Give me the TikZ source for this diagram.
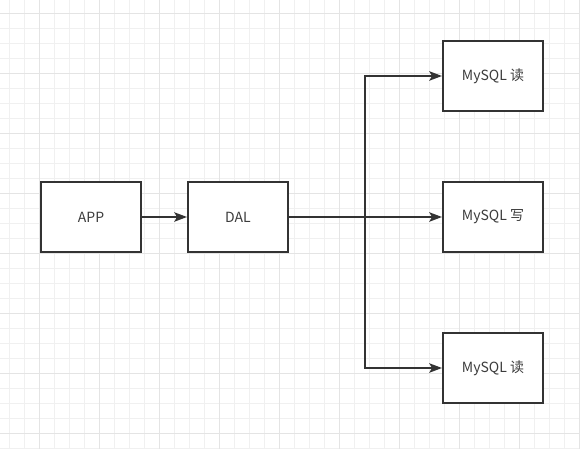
\documentclass[tikz,border=0pt]{standalone}
\usepackage{fontspec}
\setmainfont{Noto Sans CJK SC}
\usetikzlibrary{arrows.meta}
\definecolor{minorgrid}{HTML}{F0F0F0}
\definecolor{majorgrid}{HTML}{E4E4E4}
\definecolor{ink}{HTML}{333333}
\definecolor{txt}{HTML}{3C3C3C}
\tikzset{
  box/.style={draw=ink, line width=1.5pt, minimum width=75pt, minimum height=52.5pt, inner sep=0pt, fill=white, text=txt, font=\fontsize{10.5}{13}\selectfont},
  conn/.style={draw=ink, line width=1.5pt, -{Stealth[length=9.5pt, width=7pt, inset=2pt]}},
}
\begin{document}
\begin{tikzpicture}[x=0.75pt, y=-0.75pt]
\useasboundingbox (0,0) rectangle (580,449);
\fill[white] (0,0) rectangle (580,449);
% grid
\foreach \i in {0,...,38} {
  \draw[minorgrid, line width=0.75pt] ({9.3+15*\i},0) -- ({9.3+15*\i},449);
}
\foreach \i in {0,...,29} {
  \draw[minorgrid, line width=0.75pt] (0,{13.3+15*\i}) -- (580,{13.3+15*\i});
}
\foreach \i in {0,...,9} {
  \draw[majorgrid, line width=0.75pt] ({39.3+60*\i},0) -- ({39.3+60*\i},449);
}
\foreach \i in {0,...,7} {
  \draw[majorgrid, line width=0.75pt] (0,{13.3+60*\i}) -- (580,{13.3+60*\i});
}
% nodes
\node[box] (app) at (91,217) {APP};
\node[box] (dal) at (238,217) {DAL};
\node[box] (m1) at (493,76) {MySQL 读};
\node[box] (m2) at (493,217) {MySQL 写};
\node[box] (m3) at (493,368) {MySQL 读};
\coordinate (j) at (365,217);
% connectors
\draw[conn] (app) -- (dal);
\draw[conn] (dal) -- (m2);
\draw[conn] (j) |- (m1.west);
\draw[conn] (j) |- (m3.west);
\end{tikzpicture}
\end{document}
